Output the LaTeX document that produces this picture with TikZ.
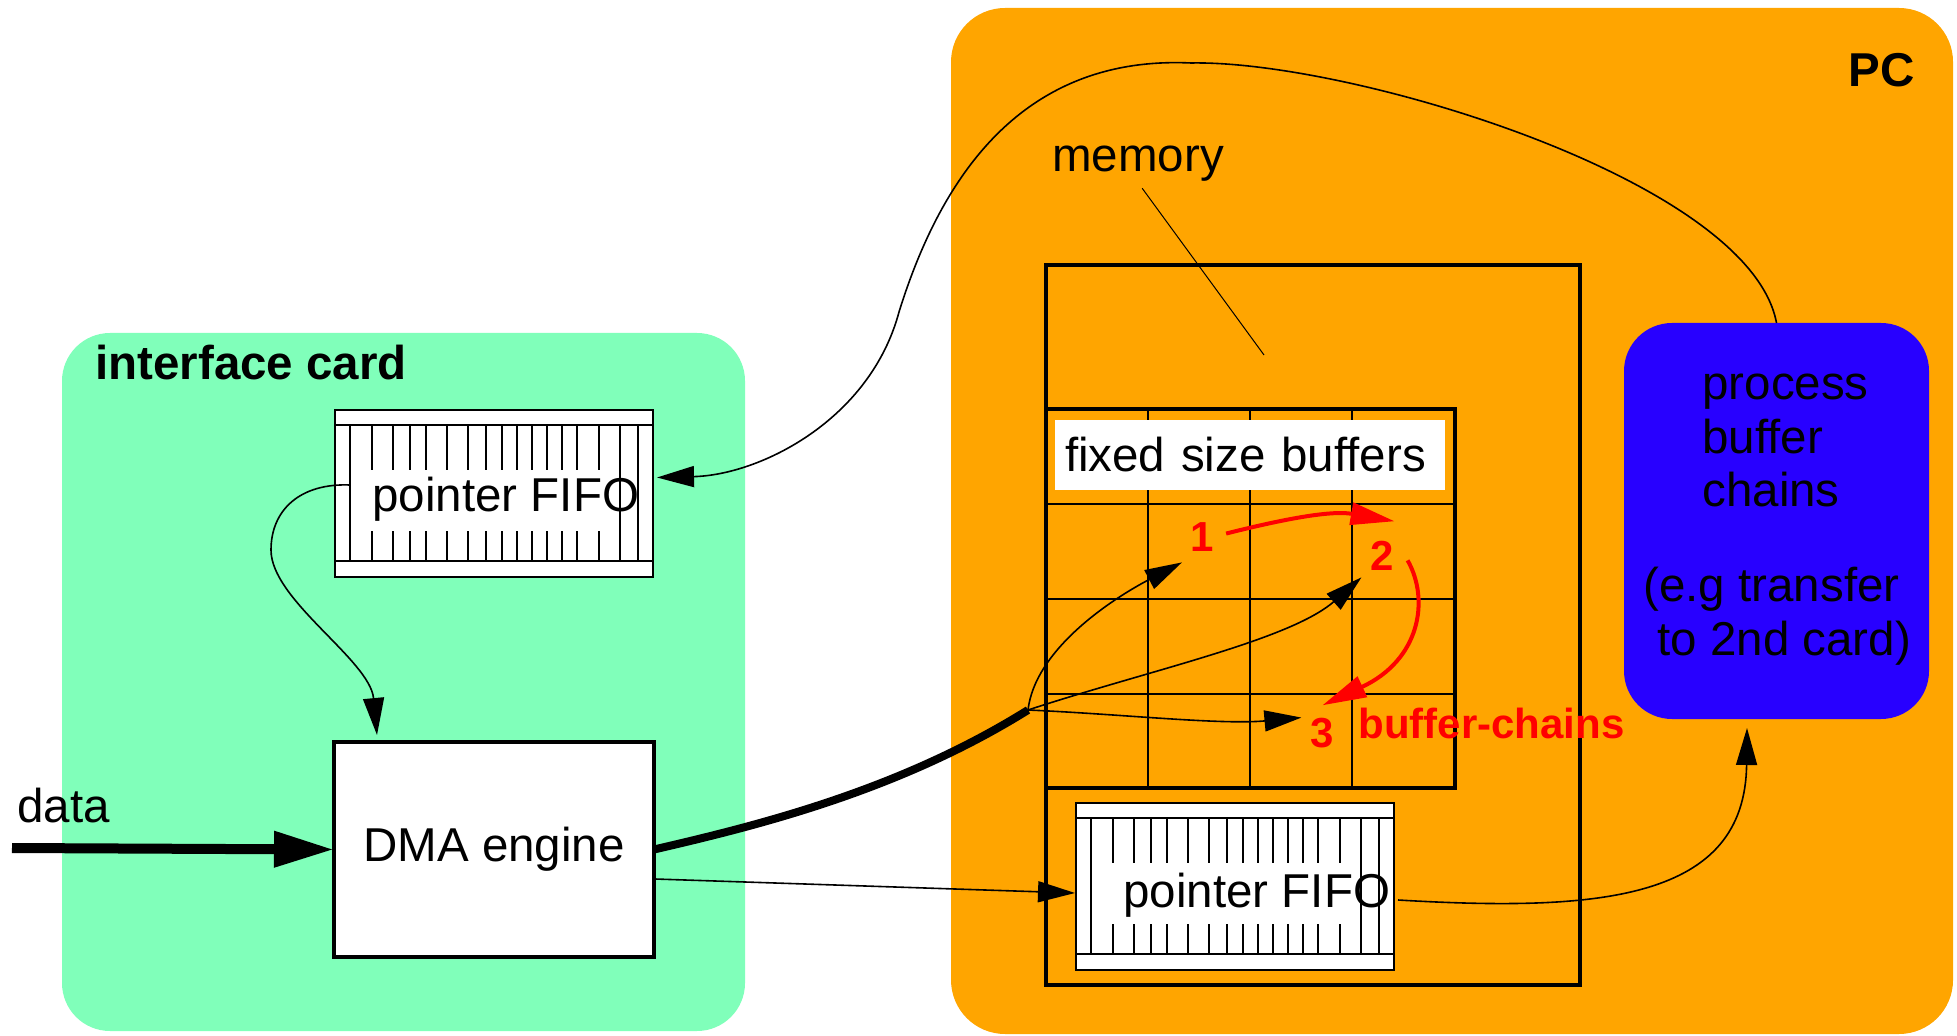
\documentclass[tikz,border=0pt]{standalone}
\usepackage{fontspec}
\setmainfont{Liberation Sans}
\usetikzlibrary{arrows.meta,calc}

\definecolor{cardgreen}{RGB}{128,255,186}
\definecolor{pcorange}{RGB}{255,165,0}
\definecolor{procblue}{RGB}{40,0,255}

\newcommand\lblfont{\fontsize{23.75pt}{28pt}\selectfont}
\newcommand\redfont{\fontsize{21pt}{24pt}\selectfont\bfseries}

\tikzset{
  panel/.style={inner sep=0pt, outer sep=0pt},
  txt/.style={inner sep=0pt, anchor=base west, font=\lblfont},
  plainbox/.style={draw, inner sep=0pt, outer sep=0pt},
  fifoline/.style={line width=1pt},
  conn/.style={line width=0.8pt, -{Triangle[length=18.5pt,width=10.5pt]}},
  chainarrow/.style={red, line width=2pt, -{Triangle[length=22pt,width=11pt]}},
  redlbl/.style={text=red, inner sep=0pt, font=\redfont},
}

% internal bands and ticks of a FIFO symbol (offsets in picture units)
\newcommand\fifolines[1]{%
  \draw[fifoline] ($(#1.north west)+(0,15)$) -- ($(#1.north east)+(0,15)$);
  \draw[fifoline] ($(#1.south west)+(0,-16)$) -- ($(#1.south east)+(0,-16)$);
  \foreach \t in {15,285,303}
    \draw[fifoline] ($(#1.north west)+(\t,15)$) -- ($(#1.south west)+(\t,-16)$);
  \foreach \t in {37,58,75,91,112,133,151,167,182,197,212,227,242,264}{
    \draw[fifoline] ($(#1.north west)+(\t,15)$) -- ++(0,45);
    \draw[fifoline] ($(#1.south west)+(\t,-16)$) -- ++(0,-30);
  }%
}

\begin{document}
\begin{tikzpicture}[x=0.5pt, y=-0.5pt]
\useasboundingbox (0,0) rectangle (1957,1036);

% background panels
\node[panel, fill=pcorange, rounded corners=27pt, minimum width=501pt, minimum height=513pt] (pc) at (1452,521) {};
\node[panel, fill=cardgreen, rounded corners=24pt, minimum width=341.5pt, minimum height=349pt] (card) at (403.5,682) {};

\node[txt, font=\lblfont\bfseries] (cardlbl) at (95,380) {interface card};
\node[txt, font=\lblfont\bfseries] (pclbl) at (1848,87) {PC};

% memory and buffer grid
\node[plainbox, line width=2pt, minimum width=267pt, minimum height=360pt] (mem) at (1313,625) {};
\node[txt] (memlbl) at (1052,172) {memory};
\coordinate (memtip) at (1264,355);
\draw[line width=0.5pt] ($(memlbl.south)+(4,6)$) -- (memtip);

\node[plainbox, line width=2pt, minimum width=204.5pt, minimum height=189.5pt] (bufgrid) at (1250.5,598.5) {};
\foreach \c in {102,204,306}
  \draw[line width=1pt] ($(bufgrid.north west)+(\c,0)$) -- ($(bufgrid.south west)+(\c,0)$);
\foreach \r in {95,190,285}
  \draw[line width=1pt] ($(bufgrid.north west)+(0,\r)$) -- ($(bufgrid.north east)+(0,\r)$);
\node[panel, fill=white, font=\lblfont, inner xsep=5pt, text width=185pt, align=left,
      minimum height=35pt] (buflbl) at (1250,455) {fixed size buffers};

% buffer chain numbers
\node[redlbl, anchor=base] (n1) at (1202,552) {1};
\node[redlbl, anchor=base] (n2) at (1382.5,570) {2};
\node[redlbl, anchor=base] (n3) at (1322.5,747) {3};
\node[redlbl, anchor=base west] (chainlbl) at (1358,738) {buffer-chains};

% FIFOs
\node[plainbox, fill=white, line width=1pt, minimum width=159pt, minimum height=83.5pt] (fifoA) at (494,493.5) {};
\fifolines{fifoA}
\node[txt] (fifoAtxt) at (372,512) {pointer FIFO};

\node[plainbox, fill=white, line width=1pt, minimum width=159pt, minimum height=83.5pt] (fifoB) at (1235,886.5) {};
\fifolines{fifoB}
\node[txt] (fifoBtxt) at (1123,907) {pointer FIFO};

% DMA engine
\node[plainbox, fill=white, line width=2pt, minimum width=160pt, minimum height=107.5pt, font=\lblfont] (dma) at (494,849.5) {DMA engine};

% process box
\node[panel, fill=procblue, rounded corners=24pt, minimum width=152.5pt, minimum height=198pt] (proc) at (1776.5,521) {};
\node[txt] (procA) at (1702,400) {process};
\node[txt] (procB) at (1702,453.5) {buffer};
\node[txt] (procC) at (1702,507) {chains};
\node[txt] (procD) at (1643,602) {(e.g transfer};
\node[txt] (procE) at (1657,655) {to 2nd card)};

% data input
\coordinate (datain) at (12,848);
\node[txt] (datalbl) at (17,822) {data};
\draw[line width=5pt, -{Triangle[length=30pt,width=17pt]}] (datain) -- (dma.west);

% DMA writes into the buffers
\coordinate (split) at (1028,710);
\draw[line width=4pt] (dma.east) .. controls (760,825) and (900,790) .. (split);
\draw[conn] (split) .. controls (1035,650) and (1110,600) .. ($(n1.south west)+(-8,10)$);
\draw[conn] (split) .. controls (1150,670) and (1290,640) .. ($(n2.south west)+(-9,7)$);
\draw[conn] (split) .. controls (1120,714) and (1220,725) .. ($(n3.west)+(-9,-15)$);

% chaining of the buffers
\draw[chainarrow] ($(n1.east)+(12,-4)$) .. controls (1280,520) and (1330,510) .. ($(n2.north east)+(0,-19)$);
\draw[chainarrow] ($(n2.east)+(13,5)$) .. controls (1430,600) and (1420,660) .. ($(n3.north)+(0,-12)$);

% pointer flow
\draw[conn] ($(fifoA.west)+(15,-8.5)$) .. controls (300,483) and (271,510) .. (271,550)
            .. controls (271,600) and (370,660) .. ($(dma.north west)+(43,-7)$);
\draw[conn] ($(dma.east)+(1,29.5)$) -- ($(fifoB.west)+(-1,6.5)$);
\draw[conn] ($(fifoB.east)+(4,13.5)$) .. controls (1600,912) and (1745,900) .. ($(proc.south)+(-29.5,9)$);
\draw[conn] (proc.north) .. controls (1750,180) and (1350,60) .. (1191,63)
            .. controls (1020,55) and (940,180) .. (899,312)
            .. controls (870,420) and (760,475) .. ($(fifoA.east)+(4,-16)$);
\end{tikzpicture}
\end{document}
